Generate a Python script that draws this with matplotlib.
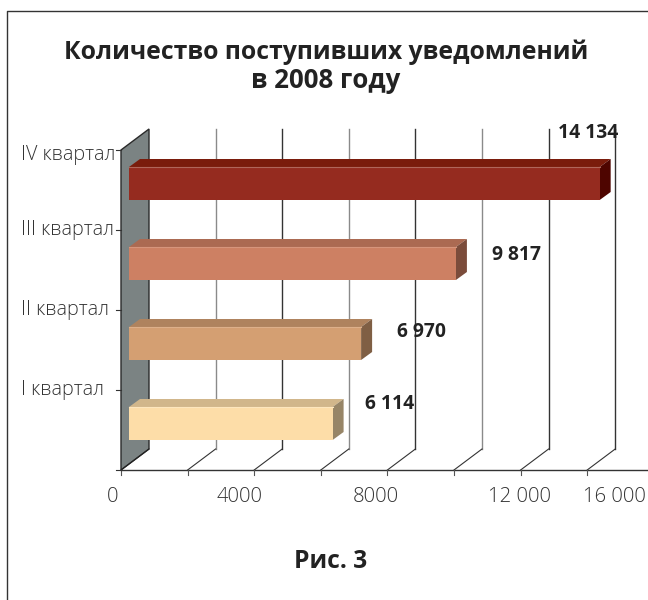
import matplotlib
matplotlib.use("Agg")
import matplotlib.pyplot as plt
from matplotlib.patches import Polygon

plt.rcParams['font.family'] = ['Open Sans', 'DejaVu Sans']

categories = ["I квартал", "II квартал", "III квартал", "IV квартал"]
values = [6114, 6970, 9817, 14134]
value_labels = ["6 114", "6 970", "9 817", "14 134"]
front_colors = ["#FDDDA8", "#D49F72", "#CD8063", "#952B1F"]
top_colors = ["#D1B68B", "#AF835E", "#AB6A52", "#7A1C0C"]
edge_colors = ["#FDE6BE", "#DDB08A", "#D6957C", "#B0665A"]
side_colors = ["#978567", "#7F5F44", "#7B4C3B", "#4E0500"]
ticks = [0, 2000, 4000, 6000, 8000, 10000, 12000, 14000]
tick_texts = ["0", "4000", "8000", "12 000", "16 000"]
tick_text_x = [113, 240, 376, 520, 614]
label_x = [365, 397, 492, 558]
label_y = [404, 332, 255, 133]
cat_label_y = [390, 310, 230, 155]
cat_label_x = [21, 21, 21, 21]

W, H = 648, 600
S = 66.6 / 2000          # px per value unit
fig = plt.figure(figsize=(W / 100, H / 100), dpi=100)
ax = fig.add_axes([0, 0, 1, 1])
ax.set_xlim(0, W)
ax.set_ylim(H, 0)
ax.axis("off")

X0 = 121                 # front-plane x of value 0
FLOOR = 470
DX, DY = 28, 21          # chart depth
BACK_TOP = 129

def vx(v):
    return X0 + v * S

# outer frame
ax.plot([6.5, 6.5, 648], [600, 10.5, 10.5], color="#333333", lw=1)

# gridlines
for t in ticks:
    x = vx(t)
    if t == 0:
        continue
    c = "#8a8a8a" if t in (2000, 6000, 10000) else "#333333"
    ax.plot([x + DX, x + DX], [BACK_TOP, FLOOR - DY], color=c, lw=1, zorder=1)
    ax.plot([x, x + DX], [FLOOR, FLOOR - DY], color="#333333", lw=0.8, zorder=1)

# left wall
ax.add_patch(Polygon([(X0, BACK_TOP + DY), (X0 + DX, BACK_TOP), (X0 + DX, FLOOR - DY), (X0, FLOOR)],
                     closed=True, fc="#7B8383", ec="#2a2a2a", lw=1, zorder=2))
ax.plot([X0, W], [FLOOR, FLOOR], color="#333333", lw=1, zorder=3)
ax.plot([X0, X0 + DX], [FLOOR, FLOOR - DY], color="#222222", lw=0.8, zorder=3)

# axis ticks
for t in ticks:
    ax.plot([vx(t)] * 2, [FLOOR, FLOOR + 5], color="#555555", lw=0.8, zorder=3)
for y in [BACK_TOP + DY + 80 * i for i in range(4)] + [FLOOR]:
    ax.plot([X0 - 5, X0], [y, y], color="#333333", lw=0.8, zorder=3)

# bars
BX = 8                   # bar start offset from the wall
BW, DBX, DBY = 33, 11, 8
for i, v in enumerate(values):
    top = 407 - 80 * i
    x0 = X0 + BX
    x1 = x0 + v * S
    ax.add_patch(Polygon([(x0, top), (x0 + DBX, top - DBY), (x1 + DBX, top - DBY), (x1, top)],
                         closed=True, fc=top_colors[i], ec="none", zorder=4))
    ax.add_patch(Polygon([(x1, top), (x1 + DBX, top - DBY), (x1 + DBX, top - DBY + BW), (x1, top + BW)],
                         closed=True, fc=side_colors[i], ec="none", zorder=4))
    ax.add_patch(Polygon([(x0, top), (x1, top), (x1, top + BW), (x0, top + BW)],
                         closed=True, fc=front_colors[i], ec="none", zorder=5))
    ax.plot([x0, x1], [top, top], color=edge_colors[i], lw=0.8, zorder=6)
    ax.text(label_x[i], label_y[i], value_labels[i], fontsize=13.9, fontweight="bold",
            color="#222222", va="center", ha="left", zorder=6)
    ax.text(cat_label_x[i], cat_label_y[i], categories[i], fontsize=14.2, fontweight="light", color="#333333",
            va="center", ha="left", zorder=6)

for t, x in zip(tick_texts, tick_text_x):
    ax.text(x, 497, t, fontsize=14.6, fontweight="light", color="#333333", ha="center", va="center")

ax.text(326, 52, "Количество поступивших уведомлений", fontsize=17.85,
        fontweight="bold", color="#222222", ha="center", va="center")
ax.text(326, 81, "в 2008 году", fontsize=18.6,
        fontweight="bold", color="#222222", ha="center", va="center")
ax.text(331, 561, "Рис. 3", fontsize=17.7, fontweight="bold", color="#222222", ha="center", va="center")

fig.savefig("out.png", dpi=100)
